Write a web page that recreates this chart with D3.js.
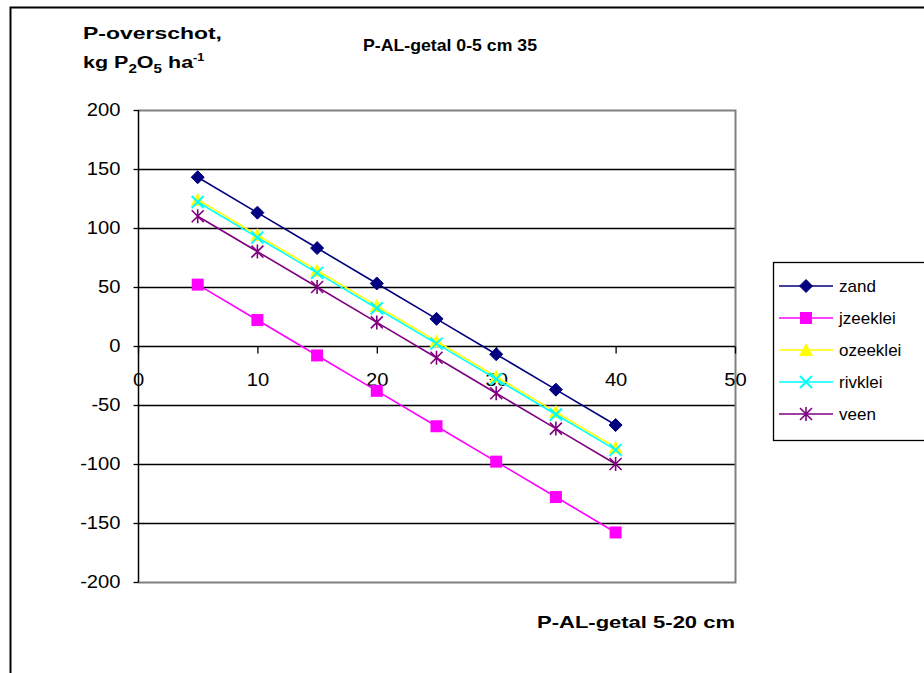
<!DOCTYPE html>
<html>
<head>
<meta charset="utf-8">
<script src="https://cdn.jsdelivr.net/npm/d3@7"></script>
<style>
  body { margin: 0; background: #fff; }
  svg { display: block; font-family: "Liberation Sans", Arial, sans-serif; }
</style>
</head>
<body>
<svg id="chart" width="924" height="673"></svg>
<script>
// chart data
var xValues = [5, 10, 15, 20, 25, 30, 35, 40];
var zand = [143, 113, 83, 53, 23, -7, -37, -67];
var jzeeklei = [52, 22, -8, -38, -68, -98, -128, -158];
var ozeeklei = [124, 94, 64, 34, 4, -26, -56, -86];
var rivklei = [122, 92, 62, 32, 2, -28, -58, -88];
var veen = [110, 80, 50, 20, -10, -40, -70, -100];
var seriesNames = ["zand", "jzeeklei", "ozeeklei", "rivklei", "veen"];
var xTicks = [0, 10, 20, 30, 40, 50];
var yTicks = [200, 150, 100, 50, 0, -50, -100, -150, -200];

var series = [
  { name: "zand", values: zand, color: "#000080", marker: "diamond" },
  { name: "jzeeklei", values: jzeeklei, color: "#ff00ff", marker: "square" },
  { name: "ozeeklei", values: ozeeklei, color: "#ffff00", marker: "triangle" },
  { name: "rivklei", values: rivklei, color: "#00ffff", marker: "cross" },
  { name: "veen", values: veen, color: "#800080", marker: "star" }
];

var svg = d3.select("#chart");

// plot area
var plot = { left: 138, right: 735, top: 110, bottom: 582 };

var x = d3.scaleLinear().domain([0, 50]).range([plot.left, plot.right]);
var y = d3.scaleLinear().domain([-200, 200]).range([plot.bottom, plot.top]);

// widen text horizontally, the reference text is drawn a little wide
function stretch(sel, factor) {
  sel.each(function () {
    var w = this.getComputedTextLength();
    d3.select(this)
      .attr("textLength", w * factor)
      .attr("lengthAdjust", "spacingAndGlyphs");
  });
} // end function stretch

// outer chart frame (runs off the page right and bottom)
svg.append("rect")
  .attr("x", 10.5).attr("y", 7.5)
  .attr("width", 1000).attr("height", 1000)
  .attr("fill", "none").attr("stroke", "#000").attr("stroke-width", 2);

// gridlines
svg.append("g")
  .selectAll("line")
  .data(yTicks.filter(function (d) { return d !== 200 && d !== -200 && d !== 0; }))
  .join("line")
  .attr("x1", plot.left).attr("x2", plot.right)
  .attr("y1", function (d) { return Math.round(y(d)) + 0.5; })
  .attr("y2", function (d) { return Math.round(y(d)) + 0.5; })
  .attr("stroke", "#000").attr("stroke-width", 1.3);

// plot area border (grey on top, right, bottom)
svg.append("path")
  .attr("d", "M" + plot.left + "," + (plot.top + 0.5) + "H" + (plot.right + 0.5) +
    "V" + (plot.bottom + 0.5) + "H" + plot.left)
  .attr("fill", "none").attr("stroke", "#808080").attr("stroke-width", 2);

// y axis
var yAxis = d3.axisLeft(y).tickValues(yTicks).tickSize(5).tickPadding(13)
  .tickFormat(function (d) { return String(d); });
var gy = svg.append("g")
  .attr("transform", "translate(" + (plot.left + 0.5) + ",0)")
  .call(yAxis);
gy.select(".domain").attr("stroke", "#000").attr("stroke-width", 1.5)
  .attr("d", "M0," + plot.top + "V" + plot.bottom);
gy.selectAll(".tick line").attr("stroke", "#000").attr("stroke-width", 1.3);
gy.selectAll(".tick text")
  .attr("font-size", 18).attr("fill", "#000")
  .attr("font-family", "Liberation Sans, Arial, sans-serif")
  .call(stretch, 1.12);

// x axis at y = 0
var xAxis = d3.axisBottom(x).tickValues(xTicks).tickSize(7).tickPadding(20)
  .tickFormat(function (d) { return String(d); });
var gx = svg.append("g")
  .attr("transform", "translate(0," + (Math.round(y(0)) + 0.5) + ")")
  .call(xAxis);
gx.select(".domain").attr("stroke", "#000").attr("stroke-width", 1.3)
  .attr("d", "M" + plot.left + ",0H" + plot.right);
gx.selectAll(".tick line").attr("stroke", "#000").attr("stroke-width", 1.3);
gx.selectAll(".tick text")
  .attr("font-size", 18).attr("fill", "#000")
  .attr("font-family", "Liberation Sans, Arial, sans-serif")
  .call(stretch, 1.12);

// marker drawing helper
function drawMarker(g, type, color, cx, cy) {
  if (type === "diamond") {
    g.append("path")
      .attr("d", "M" + cx + "," + (cy - 6.5) + "L" + (cx + 6.5) + "," + cy +
        "L" + cx + "," + (cy + 6.5) + "L" + (cx - 6.5) + "," + cy + "Z")
      .attr("fill", color).attr("stroke", color);
  } else if (type === "square") {
    g.append("rect")
      .attr("x", cx - 6).attr("y", cy - 6).attr("width", 12).attr("height", 12)
      .attr("fill", color);
  } else if (type === "triangle") {
    g.append("path")
      .attr("d", "M" + cx + "," + (cy - 7) + "L" + (cx + 7) + "," + (cy + 6) +
        "L" + (cx - 7) + "," + (cy + 6) + "Z")
      .attr("fill", color);
  } else if (type === "cross") {
    g.append("path")
      .attr("d", "M" + (cx - 6) + "," + (cy - 6) + "L" + (cx + 6) + "," + (cy + 6) +
        "M" + (cx + 6) + "," + (cy - 6) + "L" + (cx - 6) + "," + (cy + 6))
      .attr("stroke", color).attr("stroke-width", 2).attr("fill", "none");
  } else if (type === "star") {
    g.append("path")
      .attr("d", "M" + (cx - 6) + "," + (cy - 6) + "L" + (cx + 6) + "," + (cy + 6) +
        "M" + (cx + 6) + "," + (cy - 6) + "L" + (cx - 6) + "," + (cy + 6) +
        "M" + cx + "," + (cy - 7) + "V" + (cy + 7))
      .attr("stroke", color).attr("stroke-width", 1.6).attr("fill", "none");
  }
} // end function drawMarker

// series lines and markers
var line = d3.line()
  .x(function (d) { return x(d[0]); })
  .y(function (d) { return y(d[1]); });

series.forEach(function (s) {
  var pts = xValues.map(function (xv, i) { return [xv, s.values[i]]; });
  var g = svg.append("g").attr("class", "series");
  g.append("path")
    .datum(pts)
    .attr("d", line)
    .attr("fill", "none").attr("stroke", s.color).attr("stroke-width", 1.6);
  pts.forEach(function (p) {
    drawMarker(g, s.marker, s.color, x(p[0]), y(p[1]));
  });
});

// legend
var legend = svg.append("g");
legend.append("rect")
  .attr("x", 773.5).attr("y", 262.5).attr("width", 300).attr("height", 178)
  .attr("fill", "#fff").attr("stroke", "#000").attr("stroke-width", 1.3);

var legendY = d3.scalePoint().domain(seriesNames).range([286, 414]);
series.forEach(function (s) {
  var ly = legendY(s.name);
  legend.append("line")
    .attr("x1", 779).attr("x2", 833).attr("y1", ly).attr("y2", ly)
    .attr("stroke", s.color).attr("stroke-width", 1.6);
  drawMarker(legend, s.marker, s.color, 806, ly);
  legend.append("text")
    .attr("x", 839).attr("y", ly).attr("dy", "0.35em")
    .attr("font-size", 17).attr("fill", "#000")
    .text(s.name);
});

// titles, fitted to the widths seen in the reference
svg.append("text")
  .attr("x", 363).attr("y", 51)
  .attr("font-size", 17).attr("font-weight", "bold")
  .attr("textLength", 174).attr("lengthAdjust", "spacingAndGlyphs")
  .text("P-AL-getal 0-5 cm 35");

var yTitle = svg.append("g").attr("font-size", 17).attr("font-weight", "bold");
yTitle.append("text")
  .attr("x", 83).attr("y", 39)
  .attr("textLength", 139).attr("lengthAdjust", "spacingAndGlyphs")
  .text("P-overschot,");

// second line with sub/superscripts, widened with a horizontal scale
var kgG = yTitle.append("g");
var kg = kgG.append("text").attr("x", 0).attr("y", 0);
kg.append("tspan").text("kg P");
kg.append("tspan").attr("font-size", 12).attr("dy", 5).text("2");
kg.append("tspan").attr("dy", -5).text("O");
kg.append("tspan").attr("font-size", 12).attr("dy", 5).text("5");
kg.append("tspan").attr("dy", -5).text(" ha");
kg.append("tspan").attr("font-size", 10).attr("dy", -7).text("-1");
var kgW = kg.node().getBBox().width;
kgG.attr("transform", "translate(83,68) scale(" + (122 / kgW) + ",1)");

svg.append("text")
  .attr("x", 537).attr("y", 628)
  .attr("font-size", 17).attr("font-weight", "bold")
  .attr("textLength", 198).attr("lengthAdjust", "spacingAndGlyphs")
  .text("P-AL-getal 5-20 cm");
</script>
</body>
</html>
